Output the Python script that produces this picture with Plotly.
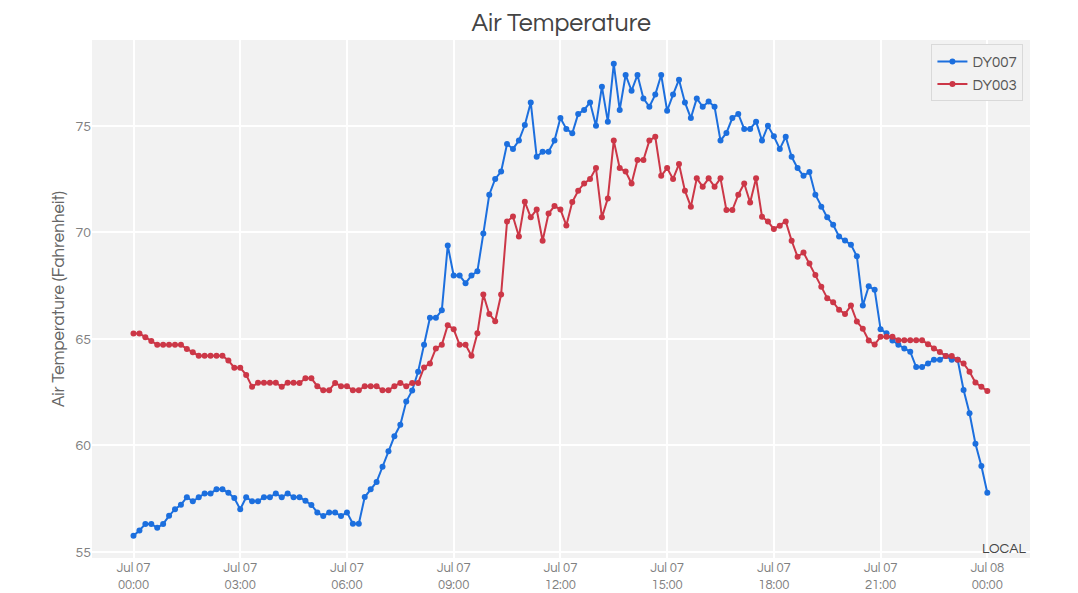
import pandas as pd
import plotly.graph_objects as go

# 10-minute readings over Jul 07
start_time = "2021-07-07 00:00"
step = "10min"

dy007 = [
    55.76, 56.01, 56.32, 56.32, 56.14, 56.32, 56.70, 57.01, 57.22, 57.57,
    57.38, 57.57, 57.75, 57.75, 57.94, 57.94, 57.78, 57.53, 57.01, 57.57,
    57.38, 57.38, 57.57, 57.57, 57.75, 57.57, 57.75, 57.57, 57.57, 57.40,
    57.21, 56.86, 56.69, 56.86, 56.86, 56.69, 56.86, 56.33, 56.33, 57.58,
    57.94, 58.29, 59.00, 59.73, 60.43, 60.97, 62.06, 62.58, 63.46, 64.72,
    65.99, 65.99, 66.34, 69.38, 67.97, 67.97, 67.61, 67.97, 68.17, 69.94,
    71.76, 72.50, 72.85, 74.14, 73.91, 74.30, 75.03, 76.09, 73.54, 73.78,
    73.78, 74.30, 75.36, 74.85, 74.64, 75.55, 75.74, 76.09, 75.00, 76.83,
    75.19, 77.90, 75.74, 77.38, 76.64, 77.38, 76.28, 75.89, 76.46, 77.38,
    75.70, 76.46, 77.16, 76.09, 75.36, 76.28, 75.89, 76.13, 75.89, 74.30,
    74.66, 75.36, 75.55, 74.85, 74.85, 75.19, 74.30, 75.00, 74.50, 73.91,
    74.48, 73.54, 73.01, 72.65, 72.83, 71.76, 71.20, 70.70, 70.35, 69.80,
    69.61, 69.42, 68.87, 66.56, 67.47, 67.30, 65.45, 65.26, 64.92, 64.72,
    64.55, 64.40, 63.68, 63.68, 63.85, 64.02, 64.02, 64.20, 64.02, 64.02,
    62.60, 61.51, 60.08, 59.04, 57.78,
]

dy003 = [
    65.25, 65.25, 65.08, 64.90, 64.72, 64.72, 64.72, 64.72, 64.72, 64.53,
    64.37, 64.21, 64.21, 64.21, 64.21, 64.21, 63.99, 63.65, 63.65, 63.31,
    62.75, 62.94, 62.94, 62.94, 62.94, 62.75, 62.94, 62.94, 62.93, 63.15,
    63.15, 62.78, 62.59, 62.59, 62.93, 62.78, 62.78, 62.59, 62.59, 62.78,
    62.78, 62.78, 62.59, 62.59, 62.78, 62.93, 62.78, 62.93, 62.93, 63.66,
    63.85, 64.55, 64.72, 65.64, 65.45, 64.72, 64.72, 64.21, 65.26, 67.08,
    66.17, 65.83, 67.08, 70.50, 70.74, 69.80, 71.43, 70.70, 71.07, 69.60,
    70.88, 71.23, 71.07, 70.32, 71.42, 71.95, 72.29, 72.50, 73.01, 70.70,
    71.59, 74.30, 73.01, 72.85, 72.29, 73.39, 73.39, 74.30, 74.48, 72.65,
    73.01, 72.50, 73.20, 71.95, 71.20, 72.53, 72.14, 72.53, 72.14, 72.53,
    71.04, 71.04, 71.76, 72.29, 71.40, 72.53, 70.73, 70.51, 70.15, 70.31,
    70.51, 69.60, 68.85, 69.05, 68.54, 68.00, 67.45, 66.91, 66.72, 66.36,
    66.17, 66.56, 65.81, 65.47, 64.92, 64.73, 65.10, 65.10, 65.10, 64.93,
    64.93, 64.93, 64.93, 64.93, 64.75, 64.55, 64.38, 64.20, 64.20, 64.02,
    63.85, 63.46, 62.95, 62.75, 62.56,
]

times = pd.date_range(start_time, periods=len(dy007), freq=step)

FONT = "Century Gothic, Questrial, Lato, sans-serif"
BLUE = '#1c6fde'
RED = '#cc3747'

fig = go.Figure()

fig.add_trace(go.Scatter(
    x=times, y=dy007, mode='lines+markers', name='DY007',
    line=dict(color=BLUE, width=2),
    marker=dict(size=6, color=BLUE),
))
fig.add_trace(go.Scatter(
    x=times, y=dy003, mode='lines+markers', name='DY003',
    line=dict(color=RED, width=2),
    marker=dict(size=6, color=RED),
))

# page body adds an 8px offset, so the figure is a bit smaller than the window
fig.update_layout(
    width=1070, height=585,
    margin=dict(l=84, r=48, t=32, b=35),
    paper_bgcolor='white',
    plot_bgcolor='#f2f2f2',
    font=dict(family=FONT, color='#666', size=13),
    title=dict(text='Air Temperature', x=0.517, xanchor='center',
               y=0.976, yanchor='middle',
               font=dict(family=FONT, size=25, color='#444')),
    legend=dict(x=0.993, y=0.992, xanchor='right', yanchor='top',
                bgcolor='#f2f2f2', bordercolor='#d9d9d9', borderwidth=1,
                font=dict(size=15, color='#555')),
    showlegend=True,
)

fig.update_xaxes(
    range=['2021-07-06 22:50', '2021-07-08 01:12'],
    tickformat='%b %d\n%H:%M',
    dtick=3 * 3600 * 1000,
    tick0='2021-07-07 00:00',
    showgrid=True, gridcolor='white', gridwidth=2,
    zeroline=False, showline=False, automargin=False,
    tickfont=dict(size=13, color='#808080'),
)
fig.update_yaxes(
    range=[54.72, 79.02],
    dtick=5,
    title=dict(text='Air Temperature (Fahrenheit)', standoff=6,
               font=dict(size=17, color='#666')),
    showgrid=True, gridcolor='white', gridwidth=2,
    zeroline=False, showline=False, automargin=False,
    tickfont=dict(size=14, color='#808080'),
)

fig.add_annotation(
    text='LOCAL', xref='paper', yref='paper', x=1, y=0,
    xanchor='right', yanchor='bottom', xshift=-2, yshift=0,
    showarrow=False, font=dict(size=14, color='#444'),
)

fig.write_html("out.html")
